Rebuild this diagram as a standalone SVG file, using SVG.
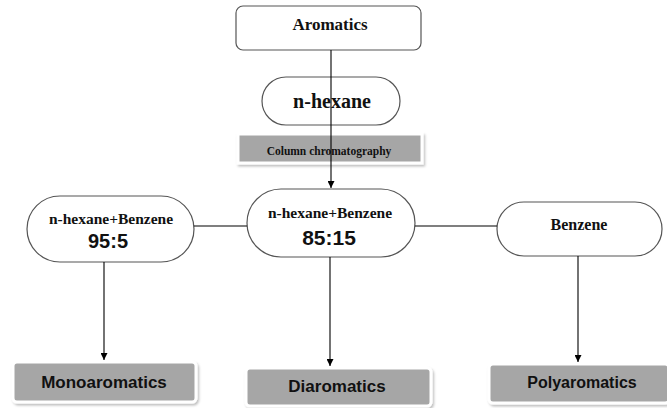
<svg xmlns="http://www.w3.org/2000/svg" width="667" height="408" viewBox="0 0 667 408">
<defs>
<marker id="arr" viewBox="0 0 10 10" refX="10" refY="5" markerWidth="7" markerHeight="7" orient="auto" markerUnits="userSpaceOnUse"><path d="M0,0 L10,5 L0,10 z" fill="#000"/></marker>
<filter id="sh" x="-10%" y="-20%" width="120%" height="150%"><feDropShadow dx="1.5" dy="2" stdDeviation="1.2" flood-color="#000" flood-opacity="0.25"/></filter>
</defs>
<style>
.box{fill:#fff;stroke:#555;stroke-width:1.2}
.grey{fill:#a6a6a6;stroke:#fff;stroke-width:3;filter:url(#sh)}
.ser{font-family:"Liberation Serif","Times New Roman",serif;font-weight:bold;fill:#111;text-anchor:middle}
.san{font-family:"Liberation Sans",Arial,sans-serif;font-weight:bold;fill:#111;text-anchor:middle}
.ln{stroke:#000;stroke-width:1.1;fill:none}
</style>
<rect width="667" height="408" fill="#fff"/>
<g id="aromatics"><rect class="box" x="236" y="6" width="185" height="44" rx="7"/><text class="ser" x="330" y="30" font-size="17">Aromatics</text></g>
<g id="nhexane"><rect class="box" x="262" y="77" width="138" height="48" rx="24"/><text class="ser" x="332" y="108" font-size="20">n-hexane</text></g>
<g id="column"><rect class="grey" x="238" y="134" width="184" height="29"/><text class="ser" x="329" y="155" font-size="11.5">Column chromatography</text></g>
<g id="mix955"><rect class="box" x="27" y="196" width="167" height="66" rx="33"/><text class="ser" x="111" y="224" font-size="15.5">n-hexane+Benzene</text><text class="san" x="108" y="248" font-size="20">95:5</text></g>
<g id="mix8515"><rect class="box" x="247" y="189" width="168" height="68" rx="34"/><text class="ser" x="330" y="218" font-size="15.5">n-hexane+Benzene</text><text class="san" x="329" y="245" font-size="21">85:15</text></g>
<g id="benzene"><rect class="box" x="497" y="202" width="165" height="54" rx="27"/><text class="ser" x="579" y="230" font-size="16">Benzene</text></g>
<g id="mono"><rect class="grey" x="13" y="362" width="183" height="40" rx="4"/><text class="san" x="104" y="388" font-size="17">Monoaromatics</text></g>
<g id="di"><rect class="grey" x="246" y="368" width="185" height="38" rx="4"/><text class="san" x="337" y="392" font-size="17">Diaromatics</text></g>
<g id="poly"><rect class="grey" x="489" y="364" width="180" height="39" rx="4"/><text class="san" x="582" y="388" font-size="16">Polyaromatics</text></g>
<g id="connectors">
<line class="ln" x1="331" y1="50" x2="331" y2="188" marker-end="url(#arr)"/>
<line class="ln" x1="194" y1="226" x2="247" y2="226"/>
<line class="ln" x1="415" y1="226" x2="497" y2="226"/>
<line class="ln" x1="104" y1="262" x2="104" y2="360" marker-end="url(#arr)"/>
<line class="ln" x1="330" y1="257" x2="330" y2="366" marker-end="url(#arr)"/>
<line class="ln" x1="578" y1="256" x2="578" y2="362" marker-end="url(#arr)"/>
</g>
</svg>
